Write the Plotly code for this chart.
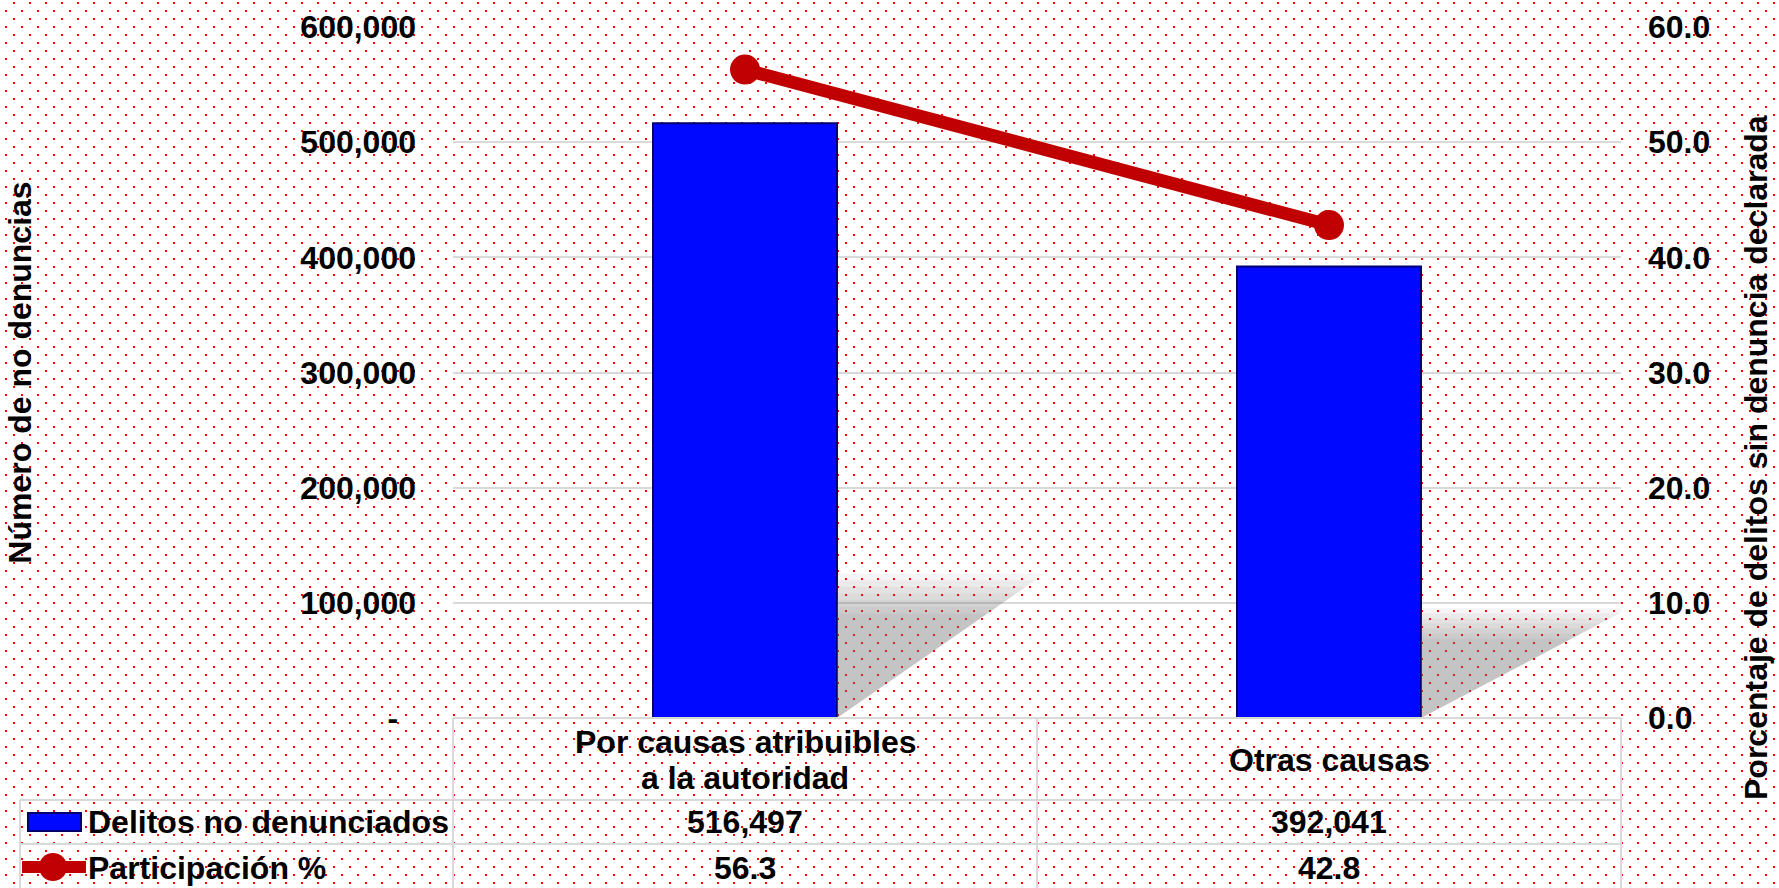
import base64
import plotly.graph_objects as go

# ---------------- data ----------------
categories = ["Por causas atribuibles<br>a la autoridad", "Otras causas"]
delitos_no_denunciados = [516497, 392041]
participacion = [56.3, 42.8]
series_names = ["Delitos no denunciados", "Participación %"]
left_ticks = [0, 100000, 200000, 300000, 400000, 500000, 600000]
right_ticks = [0, 10, 20, 30, 40, 50, 60]
left_title = "Número de no denuncias"
right_title = "Porcentaje de delitos sin denuncia declarada"

# ---------------- geometry helpers ----------------
W, H = 1779, 888
L, R, T, B = 453, 158, 27, 170
PW, PH = W - L - R, H - T - B


def px(x):
    return (x - L) / PW


def py(y):
    return (H - B - y) / PH


FONT = "Arial, Liberation Sans, sans-serif"
BAR_W = 0.315
GRID = "#D9D9D9"
RED = "#C00000"
BLUE = "#0008FF"

x_pos = list(range(len(categories)))

fig = go.Figure()

# soft shadows behind the bars (derived from bar values)
N_LAYERS = 7
for i, v in enumerate(delitos_no_denunciados):
    edge = x_pos[i] + BAR_W / 2
    for k in range(N_LAYERS):
        shrink = 1.08 - 0.05 * k
        top = v * 0.225 * shrink
        tip = edge + 0.33 * shrink
        fig.add_trace(go.Scatter(
            x=[edge, edge, tip, edge], y=[0, top, top, 0],
            fill="toself", fillcolor="rgba(120,120,120,0.07)",
            line=dict(width=0), mode="lines", hoverinfo="skip",
            showlegend=False))

fig.add_trace(go.Bar(
    x=x_pos, y=delitos_no_denunciados, width=BAR_W, name=series_names[0],
    marker=dict(color=BLUE, line=dict(color="#00006E", width=2)),
    showlegend=False))

fig.add_trace(go.Scatter(
    x=x_pos, y=participacion, yaxis="y2", name=series_names[1],
    mode="lines+markers",
    line=dict(color=RED, width=13),
    marker=dict(color=RED, size=30),
    showlegend=False))

left_text = [("-\u00a0\u00a0" if v == 0 else f"{v:,}") for v in left_ticks]
right_text = [f"{v:.1f}" for v in right_ticks]

fig.update_layout(
    width=W, height=H,
    margin=dict(l=L, r=R, t=T, b=B, autoexpand=False),
    paper_bgcolor="white", plot_bgcolor="rgba(0,0,0,0)",
    font=dict(family=FONT, color="black"),
    xaxis=dict(range=[-0.5, 1.5], showticklabels=False, showgrid=False,
               zeroline=False, showline=False, fixedrange=True),
    yaxis=dict(range=[0, 600000], tickvals=left_ticks, ticktext=left_text,
               showgrid=True, gridcolor=GRID, gridwidth=2, zeroline=False,
               showline=False, ticks="", ticklabelstandoff=36,
               tickfont=dict(size=32, family=FONT, color="black", weight="bold"),
               title=dict(text="<b>" + left_title + "</b>", standoff=259,
                          font=dict(size=32, family=FONT, color="black"))),
    yaxis2=dict(range=[0, 60], overlaying="y", side="right",
                tickvals=right_ticks, ticktext=right_text,
                showgrid=False, zeroline=False, showline=False, ticks="",
                ticklabelstandoff=26,
                tickfont=dict(size=32, family=FONT, color="black", weight="bold")),
)

# dotted background
svg = (
    f"<svg xmlns='http://www.w3.org/2000/svg' width='{W}' height='{H}'>"
    "<defs><pattern id='p' x='0' y='0' width='16' height='16' patternUnits='userSpaceOnUse'>"
    "<rect x='13' y='2' width='2' height='2' fill='#FF0000'/>"
    "<rect x='5' y='10' width='2' height='2' fill='#FF0000'/>"
    "</pattern></defs>"
    f"<rect width='{W}' height='{H}' fill='white'/>"
    f"<rect width='{W}' height='{H}' fill='url(#p)'/></svg>"
)
src = "data:image/svg+xml;base64," + base64.b64encode(svg.encode()).decode()
fig.add_layout_image(dict(source=src, xref="paper", yref="paper",
                          x=px(0), y=py(0), sizex=W / PW, sizey=H / PH,
                          xanchor="left", yanchor="top", sizing="stretch",
                          layer="below"))

# data table grid
line = dict(color=GRID, width=2)
shapes = [
    (453, 718, 1621, 718), (20, 800, 1621, 800), (20, 844, 1621, 844),
    (453, 718, 453, 888), (1037, 718, 1037, 888), (1621, 718, 1621, 888),
    (20, 800, 20, 888),
]
for x0, y0, x1, y1 in shapes:
    fig.add_shape(type="line", xref="paper", yref="paper",
                  x0=px(x0), y0=py(y0), x1=px(x1), y1=py(y1), line=line)

# legend keys
fig.add_shape(type="rect", xref="paper", yref="paper",
              x0=px(28), x1=px(81), y0=py(831), y1=py(813),
              fillcolor=BLUE, line=dict(color="#00006E", width=2))
fig.add_shape(type="line", xref="paper", yref="paper",
              x0=px(22), x1=px(86), y0=py(867), y1=py(867),
              line=dict(color=RED, width=12))
fig.add_shape(type="circle", xref="paper", yref="paper",
              x0=px(53 - 14), x1=px(53 + 14), y0=py(867 + 14), y1=py(867 - 14),
              fillcolor=RED, line=dict(color=RED, width=0))

tf = dict(size=32, family=FONT, color="black")
for i, c in enumerate(categories):
    parts = c.split("<br>")
    if len(parts) == 1:
        ys = [760]
    else:
        ys = [742, 778]
    for part, yy in zip(parts, ys):
        fig.add_annotation(x=x_pos[i], xref="x", y=py(yy), yref="paper",
                           text="<b>" + part + "</b>", showarrow=False,
                           xanchor="center", yanchor="middle", font=tf)
    fig.add_annotation(x=x_pos[i], xref="x", y=py(822), yref="paper",
                       text=f"<b>{delitos_no_denunciados[i]:,}</b>", showarrow=False,
                       xanchor="center", yanchor="middle", font=tf)
    fig.add_annotation(x=x_pos[i], xref="x", y=py(868), yref="paper",
                       text=f"<b>{participacion[i]:.1f}</b>", showarrow=False,
                       xanchor="center", yanchor="middle", font=tf)

for name, yy in zip(series_names, [822, 868]):
    fig.add_annotation(x=px(86), xref="paper", y=py(yy), yref="paper",
                       text="<b>" + name + "</b>", showarrow=False,
                       xanchor="left", yanchor="middle", font=tf)

fig.add_annotation(x=px(1756), xref="paper", y=py(458), yref="paper",
                   text="<b>" + right_title + "</b>", textangle=-90,
                   showarrow=False, xanchor="center", yanchor="middle", font=tf)

fig.write_html("out.html",
               config={"displayModeBar": False},
               post_script="document.body.style.margin='0';"
                           "document.body.style.overflow='hidden';")
